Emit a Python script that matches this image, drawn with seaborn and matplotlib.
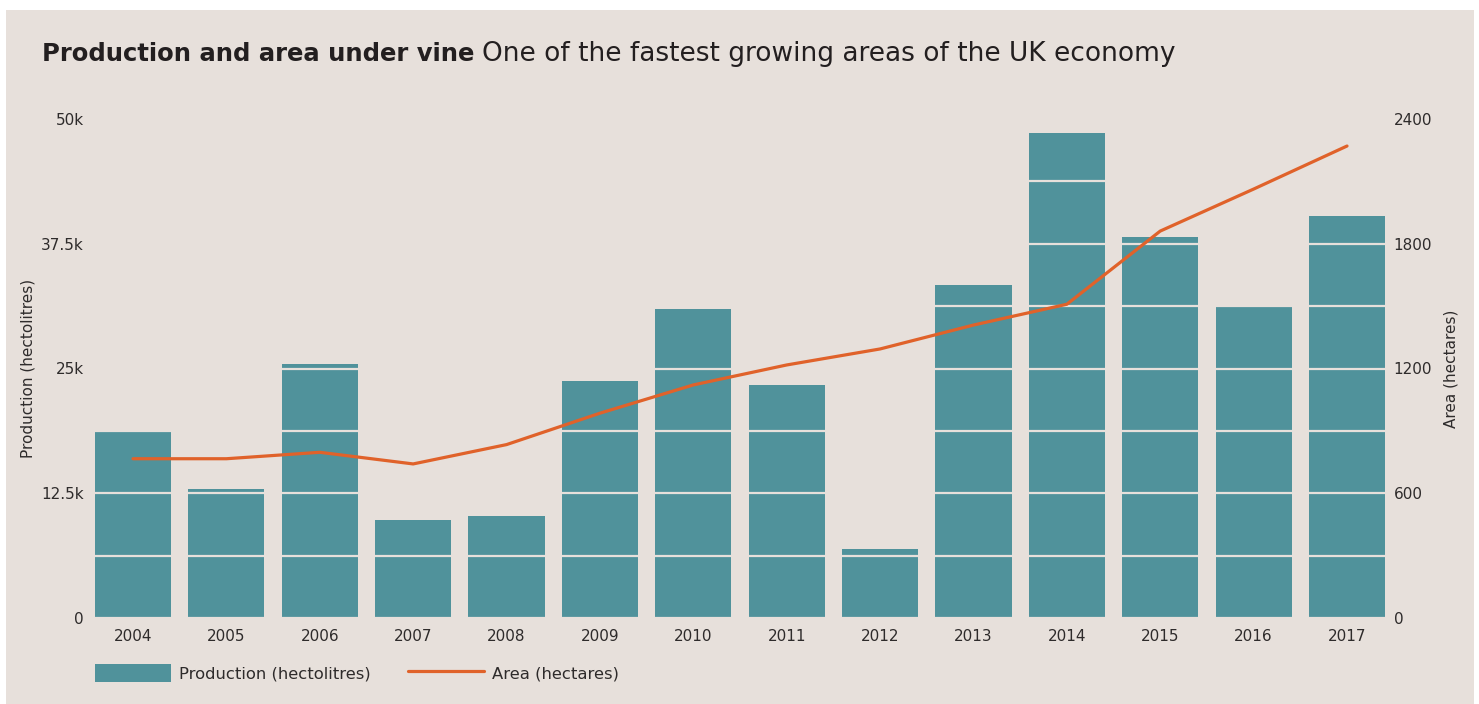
import numpy as np
import pandas as pd
import seaborn as sns
import matplotlib
matplotlib.use("Agg")
import matplotlib.pyplot as plt
from matplotlib.patches import Rectangle, Patch
from matplotlib.lines import Line2D

years = ["2004", "2005", "2006", "2007", "2008", "2009", "2010",
         "2011", "2012", "2013", "2014", "2015", "2016", "2017"]
production = [18750, 12900, 25450, 9800, 10200, 23750, 30950,
              23350, 6900, 33350, 48550, 38150, 31350, 40300]
area = [766, 766, 797, 741, 834, 985, 1121,
        1217, 1294, 1409, 1509, 1861, 2063, 2270]
left_ticks = [0, 12500, 25000, 37500, 50000]
left_labels = ["0", "12.5k", "25k", "37.5k", "50k"]
right_ticks = [0, 600, 1200, 1800, 2400]
right_labels = ["0", "600", "1200", "1800", "2400"]

BG = "#e7e0db"
TEAL = "#50929b"
ORANGE = "#e0622a"
TXT = "#2e2b2b"
FONT = ["DejaVu Sans"]

sns.set_theme(style="white")
plt.rcParams["font.family"] = FONT

W, H = 1479, 704
fig = plt.figure(figsize=(W / 100, H / 100), dpi=100, facecolor="white")
fig.patches.append(Rectangle((6 / W, 0), (1474 - 6) / W, (H - 10) / H,
                             transform=fig.transFigure, facecolor=BG,
                             edgecolor="none", zorder=-10))

ax = fig.add_axes([86.3 / W, (H - 618) / H, (1393.7 - 86.3) / W, (618 - 119) / H])
ax.set_facecolor("none")

df = pd.DataFrame({"year": years, "production": production, "area": area})
sns.barplot(data=df, x="year", y="production", color=TEAL, saturation=1,
            width=0.815, linewidth=0, edgecolor="none", ax=ax)
ax.set_xlim(-0.5, len(years) - 0.5)
ax.set_ylim(0, 50000)
ax.set_yticks(left_ticks)
ax.set_yticklabels(left_labels)
ax.set_yticks(np.arange(6250, 50001, 6250), minor=True)
ax.set_axisbelow(False)
ax.grid(axis="y", which="both", color=BG, linewidth=1.6, zorder=2.5)
ax.grid(axis="x", visible=False)
for s in ax.spines.values():
    s.set_visible(False)
ax.tick_params(axis="both", which="both", length=0, colors=TXT, labelsize=11)
ax.tick_params(axis="y", pad=2)
ax.tick_params(axis="x", pad=8)
ax.set_xlabel("")
ax.set_ylabel("Production (hectolitres)", fontsize=11, color=TXT, labelpad=4)

ax2 = ax.twinx()
ax2.set_facecolor("none")
sns.lineplot(x=np.arange(len(years)), y=area, color=ORANGE, linewidth=2.3, ax=ax2)
ax2.set_ylim(0, 2400)
ax2.set_yticks(right_ticks)
ax2.set_yticklabels(right_labels)
ax2.grid(False)
for s in ax2.spines.values():
    s.set_visible(False)
ax2.tick_params(axis="both", length=0, colors=TXT, labelsize=11, pad=0)
ax2.set_ylabel("Area (hectares)", fontsize=11, color=TXT, labelpad=8)

# Title (bold lead + regular remainder)
t1 = fig.text(42 / W, (H - 61) / H, "Production and area under vine",
              fontsize=17.5, fontweight="bold", color="#231f20", va="baseline",
              family=FONT)
fig.canvas.draw()
bb = t1.get_window_extent(fig.canvas.get_renderer())
fig.text((bb.x1 + 8) / W, (H - 61) / H,
         "One of the fastest growing areas of the UK economy",
         fontsize=19, color="#231f20", va="baseline", family=FONT)

handles = [Patch(facecolor=TEAL, edgecolor="none"),
           Line2D([0], [0], color=ORANGE, linewidth=2.3)]
leg = fig.legend(handles, ["Production (hectolitres)", "Area (hectares)"],
                 loc="center left", bbox_to_anchor=(95 / W, (H - 673) / H),
                 ncol=2, frameon=False, fontsize=11.8, borderpad=0,
                 borderaxespad=0, handlelength=4.65, handleheight=1.35,
                 handletextpad=0.45, columnspacing=2.3)
for t in leg.get_texts():
    t.set_color(TXT)

fig.savefig("out.png", dpi=100, facecolor="white")
